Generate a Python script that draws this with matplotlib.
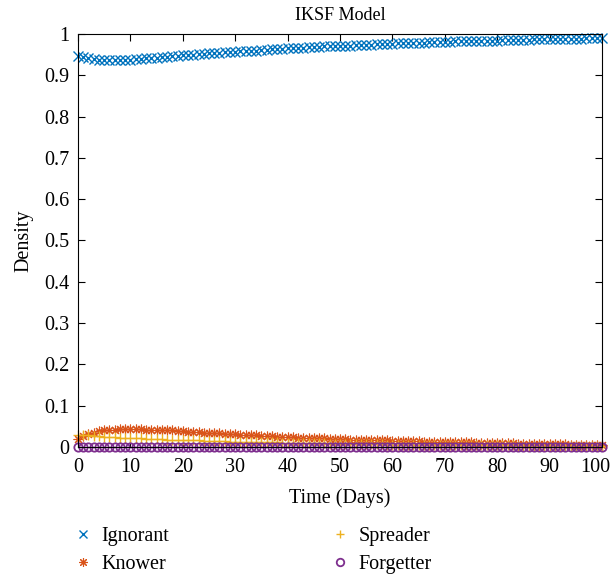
import matplotlib
matplotlib.use("Agg")
import matplotlib.pyplot as plt
from matplotlib.ticker import FormatStrFormatter, MultipleLocator

plt.rcParams['font.family'] = ['Liberation Serif', 'DejaVu Serif']

days = list(range(0, 101))

ignorant = [
    0.947, 0.944, 0.941, 0.939, 0.938, 0.937, 0.937, 0.937, 0.937, 0.937,
    0.938, 0.939, 0.940, 0.941, 0.942, 0.943, 0.944, 0.945, 0.946, 0.947,
    0.948, 0.949, 0.950, 0.951, 0.952, 0.953, 0.954, 0.955, 0.956, 0.956,
    0.957, 0.958, 0.959, 0.960, 0.960, 0.961, 0.962, 0.963, 0.963, 0.964,
    0.965, 0.966, 0.966, 0.967, 0.968, 0.968, 0.969, 0.970, 0.970, 0.971,
    0.971, 0.972, 0.972, 0.973, 0.973, 0.974, 0.974, 0.975, 0.975, 0.976,
    0.976, 0.977, 0.977, 0.978, 0.978, 0.979, 0.979, 0.980, 0.980, 0.980,
    0.981, 0.981, 0.982, 0.982, 0.982, 0.983, 0.983, 0.983, 0.984, 0.984,
    0.984, 0.985, 0.985, 0.985, 0.986, 0.986, 0.986, 0.987, 0.987, 0.987,
    0.988, 0.988, 0.988, 0.988, 0.989, 0.989, 0.989, 0.990, 0.990, 0.990,
    0.991,
]

knower = [
    0.020, 0.026, 0.031, 0.035, 0.038, 0.040, 0.041, 0.042, 0.043, 0.043,
    0.043, 0.043, 0.043, 0.042, 0.042, 0.041, 0.041, 0.040, 0.040, 0.039,
    0.038, 0.037, 0.037, 0.036, 0.035, 0.034, 0.034, 0.033, 0.032, 0.032,
    0.031, 0.030, 0.029, 0.029, 0.028, 0.027, 0.027, 0.026, 0.025, 0.025,
    0.024, 0.024, 0.023, 0.023, 0.022, 0.022, 0.021, 0.021, 0.020, 0.020,
    0.019, 0.019, 0.018, 0.018, 0.018, 0.017, 0.017, 0.016, 0.016, 0.016,
    0.015, 0.015, 0.015, 0.014, 0.014, 0.014, 0.013, 0.013, 0.013, 0.012,
    0.012, 0.012, 0.011, 0.011, 0.011, 0.011, 0.010, 0.010, 0.010, 0.010,
    0.009, 0.009, 0.009, 0.009, 0.008, 0.008, 0.008, 0.008, 0.008, 0.007,
    0.007, 0.007, 0.007, 0.007, 0.006, 0.006, 0.006, 0.006, 0.006, 0.005,
    0.005,
]

spreader = [
    0.030, 0.029, 0.028, 0.027, 0.026, 0.025, 0.024, 0.024, 0.023, 0.022,
    0.022, 0.021, 0.021, 0.020, 0.020, 0.019, 0.019, 0.018, 0.018, 0.017,
    0.017, 0.016, 0.016, 0.016, 0.015, 0.015, 0.014, 0.014, 0.014, 0.013,
    0.013, 0.013, 0.012, 0.012, 0.012, 0.011, 0.011, 0.011, 0.011, 0.010,
    0.010, 0.010, 0.010, 0.009, 0.009, 0.009, 0.009, 0.009, 0.008, 0.008,
    0.008, 0.008, 0.008, 0.007, 0.007, 0.007, 0.007, 0.007, 0.007, 0.006,
    0.006, 0.006, 0.006, 0.006, 0.006, 0.006, 0.005, 0.005, 0.005, 0.005,
    0.005, 0.005, 0.005, 0.005, 0.004, 0.004, 0.004, 0.004, 0.004, 0.004,
    0.004, 0.004, 0.004, 0.004, 0.003, 0.003, 0.003, 0.003, 0.003, 0.003,
    0.003, 0.003, 0.003, 0.003, 0.003, 0.003, 0.002, 0.002, 0.002, 0.002,
    0.002,
]

forgetter = [
    0.001, 0.001, 0.001, 0.001, 0.001, 0.001, 0.001, 0.001, 0.001, 0.001,
    0.001, 0.001, 0.001, 0.001, 0.001, 0.001, 0.001, 0.001, 0.001, 0.001,
    0.001, 0.001, 0.001, 0.001, 0.001, 0.001, 0.001, 0.001, 0.001, 0.001,
    0.001, 0.001, 0.001, 0.001, 0.001, 0.001, 0.001, 0.001, 0.001, 0.001,
    0.000, 0.000, 0.000, 0.000, 0.000, 0.000, 0.000, 0.000, 0.000, 0.000,
    0.000, 0.000, 0.000, 0.000, 0.000, 0.000, 0.000, 0.000, 0.000, 0.000,
    0.000, 0.000, 0.000, 0.000, 0.000, 0.000, 0.000, 0.000, 0.000, 0.000,
    0.000, 0.000, 0.000, 0.000, 0.000, 0.000, 0.000, 0.000, 0.000, 0.000,
    0.000, 0.000, 0.000, 0.000, 0.000, 0.000, 0.000, 0.000, 0.000, 0.000,
    0.000, 0.000, 0.000, 0.000, 0.000, 0.000, 0.000, 0.000, 0.000, 0.000,
    0.000,
]

series_names = ['Ignorant', 'Knower', 'Spreader', 'Forgetter']
colors = ['#0072BD', '#D95319', '#EDB120', '#7E2F8E']
markers = ['x', (8, 2, 0), '+', 'o']

x_ticks = list(range(0, 101, 10))
x_tick_labels = [str(v) for v in x_ticks]

FS = 14.5

fig = plt.figure(figsize=(6.15, 5.78), dpi=100)
ax = fig.add_axes([78/615, 1-447/578, (602-78)/615, (447-34)/578])

for name, vals, c, m in zip(series_names, [ignorant, knower, spreader, forgetter], colors, markers):
    kw = dict(linestyle='none', marker=m, color=c, markersize=6.5, label=name,
              markeredgewidth=1.0, clip_on=False)
    if m == 'o':
        kw['markerfacecolor'] = 'none'
        kw['markersize'] = 6
        kw['markeredgewidth'] = 1.3
    if m == (8, 2, 0):
        kw['markersize'] = 7
        kw['markeredgewidth'] = 0.8
    ax.plot(days, vals, **kw)

ax.set_xlim(0, 100)
ax.set_ylim(0, 1)
# last x tick label is drawn separately, nudged inward so it stays inside the figure
ax.set_xticks(x_ticks, x_tick_labels[:-1] + [''])
ax.annotate(x_tick_labels[-1], xy=(x_ticks[-1], 0), xycoords=('data', 'axes fraction'),
            xytext=(-4.5, -8), textcoords='offset points', ha='center', va='top',
            fontsize=FS)
ax.yaxis.set_major_locator(MultipleLocator(0.1))
ax.yaxis.set_major_formatter(FormatStrFormatter('%g'))
ax.tick_params(direction='in', top=True, right=True, labelsize=FS, length=5, width=0.8)
ax.tick_params(axis='x', pad=8)
ax.tick_params(axis='y', pad=6)
for s in ax.spines.values():
    s.set_linewidth(0.8)
ax.set_title('IKSF Model', fontsize=13, pad=10)
ax.set_xlabel('Time (Days)', fontsize=FS, labelpad=8)
ax.set_ylabel('Density', fontsize=FS, labelpad=8)

handles, labels = ax.get_legend_handles_labels()
fig.legend(handles, labels, ncol=2, loc='upper left', bbox_to_anchor=(55/615, 1-509/578),
           frameon=False, fontsize=FS, handlelength=1.0, handletextpad=0.4,
           columnspacing=8.0, labelspacing=0.45, markerscale=0.9)

fig.savefig('out.png', dpi=100)
